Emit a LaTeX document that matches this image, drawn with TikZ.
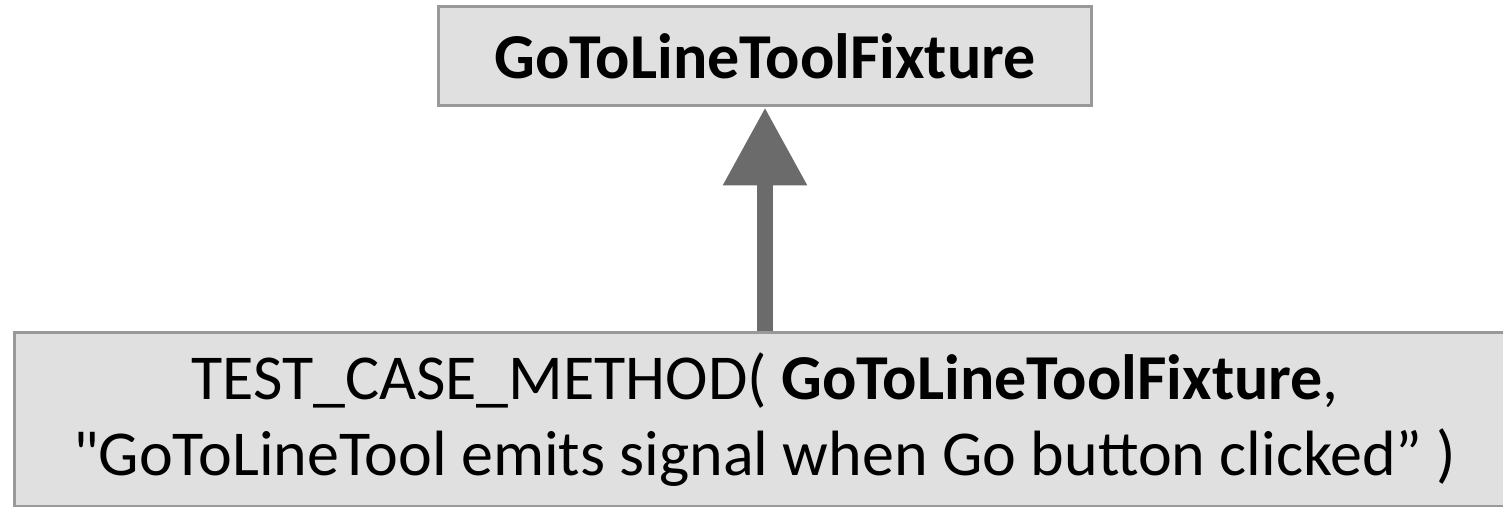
\documentclass[tikz,border=0pt]{standalone}
\usepackage{fontspec}
\setmainfont{Carlito}
\usepackage{xcolor}
\usetikzlibrary{arrows.meta}
\definecolor{boxfill}{HTML}{E0E0E0}
\definecolor{boxline}{HTML}{999999}
\definecolor{arrowgray}{HTML}{6B6B6B}
\begin{document}
\begin{tikzpicture}[x=0.5pt,y=0.5pt,
  fixturebox/.style={draw=boxline,fill=boxfill,line width=1.5pt,inner sep=0pt,
    minimum width=326.5pt,minimum height=49.5pt,font=\fontsize{32}{38}\selectfont\bfseries},
  casebox/.style={draw=boxline,fill=boxfill,line width=1.5pt,inner sep=0pt,align=center,
    minimum width=751pt,minimum height=86.5pt,font=\fontsize{32}{38}\selectfont},
  inherit/.style={draw=arrowgray,line width=8pt,-{Triangle[length=39pt,width=40pt]}}]
\useasboundingbox (0,0) rectangle (1503,-507);
\clip (0,0) rectangle (1503,-507);
%Fixture
\node[fixturebox] (fixture) at (765,-56.5) {GoToLineToolFixture};
%Test case
\node[casebox] (testcase) at (765,-419.5) {TEST\_CASE\_METHOD( \textbf{GoToLineToolFixture},\\
\textquotedbl GoToLineTool emits signal when Go button clicked” )};
%Arrow
\draw[inherit] (testcase.north) -- (fixture.south);
\end{tikzpicture}
\end{document}
